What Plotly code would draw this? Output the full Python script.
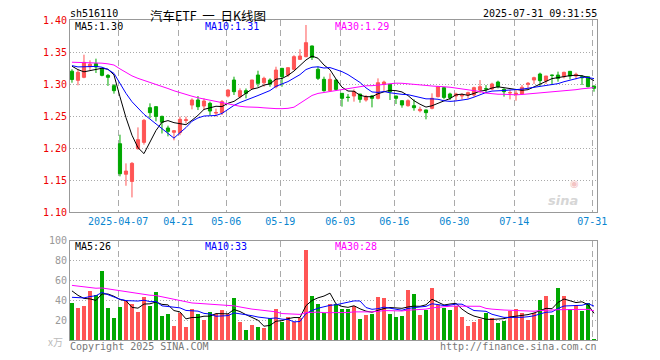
import plotly.graph_objects as go
import numpy as np

# ---------------- data ----------------
dates = [
    "2025-03-25", "2025-03-26", "2025-03-27", "2025-03-28", "2025-03-31",
    "2025-04-01", "2025-04-02", "2025-04-03", "2025-04-07", "2025-04-08",
    "2025-04-09", "2025-04-10", "2025-04-11", "2025-04-14", "2025-04-15",
    "2025-04-16", "2025-04-17", "2025-04-18", "2025-04-21", "2025-04-22",
    "2025-04-23", "2025-04-24", "2025-04-25", "2025-04-28", "2025-04-29",
    "2025-04-30", "2025-05-06", "2025-05-07", "2025-05-08", "2025-05-09",
    "2025-05-12", "2025-05-13", "2025-05-14", "2025-05-15", "2025-05-16",
    "2025-05-19", "2025-05-20", "2025-05-21", "2025-05-22", "2025-05-23",
    "2025-05-26", "2025-05-27", "2025-05-28", "2025-05-29", "2025-05-30",
    "2025-06-03", "2025-06-04", "2025-06-05", "2025-06-06", "2025-06-09",
    "2025-06-10", "2025-06-11", "2025-06-12", "2025-06-13", "2025-06-16",
    "2025-06-17", "2025-06-18", "2025-06-19", "2025-06-20", "2025-06-23",
    "2025-06-24", "2025-06-25", "2025-06-26", "2025-06-27", "2025-06-30",
    "2025-07-01", "2025-07-02", "2025-07-03", "2025-07-04", "2025-07-07",
    "2025-07-08", "2025-07-09", "2025-07-10", "2025-07-11", "2025-07-14",
    "2025-07-15", "2025-07-16", "2025-07-17", "2025-07-18", "2025-07-21",
    "2025-07-22", "2025-07-23", "2025-07-24", "2025-07-25", "2025-07-28",
    "2025-07-29", "2025-07-30", "2025-07-31",
]

opens = [1.320, 1.3057, 1.3104, 1.327, 1.3318, 1.3234, 1.3135, 1.2974, 1.2067, 1.159,
         1.1478, 1.1989, 1.2088, 1.263, 1.2646, 1.2494, 1.2312, 1.2245, 1.224, 1.243,
         1.2671, 1.275, 1.2656, 1.2698, 1.2545, 1.2552, 1.2812, 1.3062, 1.2802, 1.2896,
         1.2932, 1.314, 1.302, 1.3062, 1.2958, 1.3245, 1.314, 1.3229, 1.3385, 1.3427,
         1.3594, 1.3229, 1.3073, 1.2896, 1.3062, 1.2854, 1.2794, 1.2812, 1.2843, 1.275,
         1.2812, 1.2776, 1.300, 1.2995, 1.2812, 1.2739, 1.2661, 1.2661, 1.2583, 1.2594,
         1.262, 1.2802, 1.2943, 1.2844, 1.2813, 1.2813, 1.2828, 1.2828, 1.2906, 1.2925,
         1.2922, 1.3031, 1.2917, 1.2862, 1.284, 1.2844, 1.2995, 1.3062, 1.3156, 1.3047,
         1.3138, 1.314, 1.3114, 1.3198, 1.3125, 1.3114, 1.3114, 1.2969]
highs = [1.323, 1.3224, 1.3458, 1.337, 1.3396, 1.325, 1.3156, 1.300, 1.2208, 1.176,
         1.178, 1.2322, 1.2453, 1.2698, 1.2651, 1.2505, 1.2349, 1.228, 1.249, 1.249,
         1.2776, 1.2812, 1.2776, 1.2724, 1.2615, 1.275, 1.2916, 1.3114, 1.2932, 1.293,
         1.3065, 1.3208, 1.3114, 1.3088, 1.327, 1.325, 1.326, 1.345, 1.3542, 1.3922,
         1.360, 1.327, 1.3114, 1.3166, 1.3073, 1.2856, 1.2843, 1.2916, 1.2845, 1.2828,
         1.2828, 1.3088, 1.3052, 1.300, 1.2815, 1.274, 1.276, 1.276, 1.2646, 1.260,
         1.2854, 1.2969, 1.295, 1.2864, 1.2864, 1.2854, 1.288, 1.2958, 1.3062, 1.2984,
         1.302, 1.3052, 1.2932, 1.2906, 1.2906, 1.2984, 1.3031, 1.3114, 1.3177, 1.3125,
         1.3146, 1.3193, 1.3193, 1.320, 1.3177, 1.314, 1.3114, 1.297]
lows = [1.302, 1.2979, 1.309, 1.322, 1.3172, 1.312, 1.297, 1.2849, 1.1557, 1.141,
        1.1228, 1.1974, 1.2052, 1.2464, 1.2417, 1.2227, 1.2182, 1.212, 1.220, 1.2385,
        1.2604, 1.2593, 1.2593, 1.2515, 1.249, 1.2515, 1.2791, 1.2828, 1.2776, 1.2776,
        1.2916, 1.2958, 1.2958, 1.2958, 1.2932, 1.2958, 1.311, 1.3218, 1.3375, 1.3417,
        1.3375, 1.3062, 1.288, 1.288, 1.2896, 1.2646, 1.2724, 1.2724, 1.2708, 1.2724,
        1.2635, 1.276, 1.288, 1.275, 1.2687, 1.263, 1.2646, 1.2583, 1.2557, 1.2448,
        1.2604, 1.2791, 1.276, 1.275, 1.274, 1.276, 1.2776, 1.2802, 1.2854, 1.287,
        1.2906, 1.2932, 1.2802, 1.276, 1.2739, 1.2828, 1.2917, 1.300, 1.2969, 1.300,
        1.2984, 1.3036, 1.3088, 1.3073, 1.3073, 1.2984, 1.2948, 1.288]
closes = [1.307, 1.3182, 1.3338, 1.331, 1.3266, 1.3135, 1.3104, 1.2896, 1.1598, 1.164,
          1.176, 1.213, 1.2432, 1.2552, 1.2494, 1.2403, 1.226, 1.227, 1.2448, 1.244,
          1.275, 1.2645, 1.2734, 1.2578, 1.2555, 1.2724, 1.2906, 1.288, 1.2896, 1.2854,
          1.3062, 1.301, 1.3088, 1.300, 1.3218, 1.3114, 1.3255, 1.3427, 1.3437, 1.3646,
          1.3416, 1.3088, 1.2896, 1.3073, 1.2916, 1.2776, 1.279, 1.288, 1.276, 1.2802,
          1.2776, 1.302, 1.303, 1.288, 1.2776, 1.2672, 1.2739, 1.263, 1.2604, 1.2552,
          1.2776, 1.2958, 1.2791, 1.2786, 1.2844, 1.2828, 1.2864, 1.2943, 1.2958, 1.2922,
          1.300, 1.2958, 1.288, 1.2865, 1.2854, 1.2948, 1.301, 1.3099, 1.3052, 1.3125,
          1.3135, 1.3088, 1.3182, 1.3125, 1.3151, 1.3099, 1.2958, 1.2932]
# closes before the visible window (only used to warm up the moving averages)
prior_closes = [1.325, 1.330, 1.335, 1.340, 1.338, 1.342, 1.345, 1.340, 1.336, 1.332,
                1.330, 1.334, 1.338, 1.342, 1.340, 1.336, 1.333, 1.335, 1.338, 1.345,
                1.338, 1.332, 1.326, 1.325, 1.327, 1.345, 1.351, 1.320, 1.316]

volumes = [37.3, 32.7, 34.3, 49.7, 45.3, 69.7, 32.7, 22.7, 33.3, 39.3,
           36.3, 28.7, 43.3, 34.7, 48.3, 24.3, 26.3, 14.7, 27.7, 13.3,
           31.3, 26.7, 20.7, 28.3, 26.0, 30.7, 26.0, 42.3, 18.3, 10.3,
           15.3, 13.3, 12.3, 22.3, 31.3, 18.3, 23.3, 18.0, 22.0, 91.3,
           44.3, 36.7, 27.0, 36.7, 37.0, 31.7, 32.0, 35.0, 21.3, 25.3,
           26.3, 43.3, 42.3, 26.3, 23.3, 24.3, 50.3, 46.3, 25.3, 31.0,
           52.3, 35.3, 32.3, 30.3, 34.3, 23.3, 14.3, 18.3, 21.3, 27.3,
           22.3, 17.3, 19.3, 29.7, 31.3, 27.3, 20.3, 27.3, 40.3, 44.3,
           25.3, 52.3, 44.3, 31.3, 35.3, 29.3, 37.3, 1.3]
prior_volumes = [58, 65, 70, 55, 62, 60, 66, 59, 63, 57,
                 61, 64, 60, 58, 62, 66, 59, 60, 57, 58,
                 38, 35, 36, 37, 36.5, 55, 50, 52, 53]

tick_dates = ["2025-04-07", "2025-04-21", "2025-05-06", "2025-05-19", "2025-06-03",
              "2025-06-16", "2025-06-30", "2025-07-14", "2025-07-31"]
tick_labels = ["2025-04-07", "04-21", "05-06", "05-19", "06-03",
               "06-16", "06-30", "07-14", "07-31"]
price_ticks = [1.10, 1.15, 1.20, 1.25, 1.30, 1.35, 1.40]
vol_ticks = [20, 40, 60, 80, 100]

price_ma_labels = ["MA5:1.30", "MA10:1.31", "MA30:1.29"]
vol_ma_labels = ["MA5:26", "MA10:33", "MA30:28"]

# ---------------- styling ----------------
RED = "#ff5555"
GREEN = "#00a800"
MA_COLORS = ["#000000", "#0000ff", "#ff00ff"]
MA_N = [5, 10, 30]
MONO = "DejaVu Sans Mono"

n = len(closes)
idx = np.arange(n)


def moving_average(prior, vals, w):
    full = np.array(list(prior) + list(vals), dtype=float)
    off = len(prior)
    return [full[off + i - w + 1: off + i + 1].mean() for i in range(len(vals))]


# The page body has an 8px margin, so the figure starts at page (8, 8).
OFF = 8
FIG_W, FIG_H = 660 - OFF, 360 - OFF
# plot area in page pixels
L, R, T, B = 70, 597, 20, 340


def pxx(x):
    return (x - L) / (R - L)


def pxy(y):
    return (B - y) / (B - T)


x_range = [-0.33, 87.5]
tick_pos = [dates.index(d) - 0.3 for d in tick_dates]

fig = go.Figure()

fig.add_trace(go.Candlestick(
    x=idx, open=opens, high=highs, low=lows, close=closes,
    increasing=dict(line=dict(color=RED, width=1), fillcolor=RED),
    decreasing=dict(line=dict(color=GREEN, width=1), fillcolor=GREEN),
    whiskerwidth=0, xaxis="x", yaxis="y", showlegend=False, hoverinfo="skip"))

for w, c in zip(MA_N, MA_COLORS):
    fig.add_trace(go.Scatter(x=idx, y=moving_average(prior_closes, closes, w),
                             mode="lines", line=dict(color=c, width=1),
                             xaxis="x", yaxis="y", showlegend=False, hoverinfo="skip"))

bar_colors = [RED if c >= o else GREEN for o, c in zip(opens, closes)]
fig.add_trace(go.Bar(x=idx, y=volumes, marker=dict(color=bar_colors, line=dict(width=0)),
                     width=0.8, xaxis="x2", yaxis="y2", showlegend=False, hoverinfo="skip"))

for w, c in zip(MA_N, MA_COLORS):
    fig.add_trace(go.Scatter(x=idx, y=moving_average(prior_volumes, volumes, w),
                             mode="lines", line=dict(color=c, width=1),
                             xaxis="x2", yaxis="y2", showlegend=False, hoverinfo="skip"))

grid_v = dict(showgrid=True, gridcolor="#aaaaaa", gridwidth=1, griddash="6px,4px")
border = dict(showline=True, linecolor="#999999", linewidth=1, mirror=True, zeroline=False)

fig.update_layout(
    width=FIG_W, height=FIG_H,
    margin=dict(l=L - OFF, r=FIG_W - (R - OFF), t=T - OFF, b=FIG_H - (B - OFF),
                pad=0, autoexpand=False),
    paper_bgcolor="white", plot_bgcolor="white",
    showlegend=False, boxgap=0.25, bargap=0,
    xaxis=dict(domain=[0, 1], range=x_range, anchor="y",
               rangeslider=dict(visible=False),
               tickmode="array", tickvals=tick_pos, ticktext=tick_labels,
               ticks="", tickfont=dict(family=MONO, size=10, color="#0a86d0"),
               automargin=False, **grid_v, **border),
    yaxis=dict(domain=[pxy(212), 1], range=[1.10, 1.40], anchor="x",
               tickmode="array", tickvals=price_ticks,
               ticktext=["%.2f" % v for v in price_ticks],
               ticks="", tickfont=dict(family=MONO, size=10, color="#ee0000"),
               showgrid=True, gridcolor="#aaaaaa", gridwidth=1, griddash="1px,2px",
               automargin=False, **border),
    xaxis2=dict(domain=[0, 1], range=x_range, anchor="y2",
                tickmode="array", tickvals=tick_pos, showticklabels=False, ticks="",
                automargin=False, **grid_v, **border),
    yaxis2=dict(domain=[0, pxy(240.7)], range=[0, 100], anchor="x2",
                tickmode="array", tickvals=vol_ticks, ticktext=[str(v) for v in vol_ticks],
                ticks="", tickfont=dict(family=MONO, size=10, color="#999999"),
                showgrid=True, gridcolor="#aaaaaa", gridwidth=1, griddash="1px,2px",
                automargin=False, **border),
)

ann = []


def text(x, y, s, color="#000000", size=10, family=MONO, xanchor="left", **kw):
    ann.append(dict(x=pxx(x), y=pxy(y), xref="paper", yref="paper", text=s,
                    showarrow=False, xanchor=xanchor, yanchor="middle",
                    font=dict(family=family, size=size, color=color), borderpad=0, **kw))


text(69, 13.5, "sh516110")
text(149, 15, "汽车ETF  一  日K线图", size=12.5, family="Noto Sans CJK SC")
text(598, 13.5, "2025-07-31 09:31:55", xanchor="right")

for s, x, c in zip(price_ma_labels, [74, 204, 334], MA_COLORS):
    text(x, 26, s, color=c)
for s, x, c in zip(vol_ma_labels, [74, 204, 334], MA_COLORS):
    text(x, 246, s, color=c)

text(64, 341, "x万", color="#bbbbbb", size=10, family="Noto Sans CJK SC", xanchor="right")
text(69, 346, "Copyright 2025 SINA.COM", color="#777777")
text(598, 346, "http://finance.sina.com.cn", color="#777777", xanchor="right")

# sina watermark
ann.append(dict(x=pxx(581), y=pxy(183), xref="paper", yref="paper", text="◉",
                showarrow=False, font=dict(family="DejaVu Sans", size=10, color="#f3c4c4")))
ann.append(dict(x=pxx(580), y=pxy(200), xref="paper", yref="paper", text="sina",
                showarrow=False,
                font=dict(family="DejaVu Sans", size=13, color="#d6d6d6",
                          style="italic", weight="bold")))

fig.update_layout(annotations=ann)

fig.write_html("out.html")
